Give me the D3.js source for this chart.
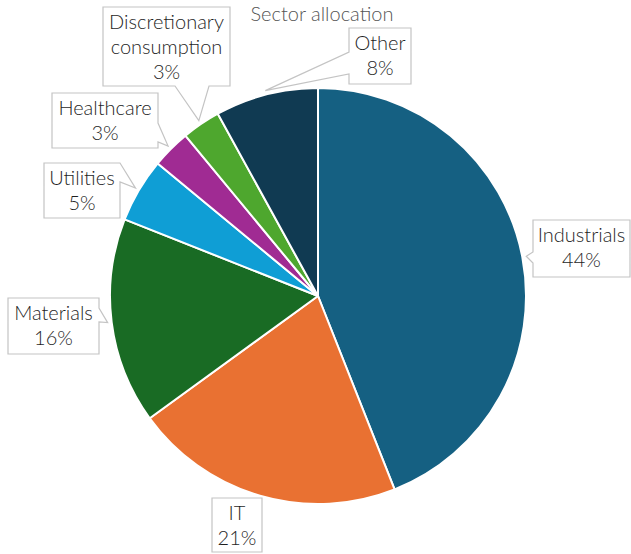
<!DOCTYPE html>
<html>
<head>
<meta charset="utf-8">
<script src="https://cdn.jsdelivr.net/npm/d3@7"></script>
<style>
  html, body { margin: 0; padding: 0; background: #ffffff; }
  svg { display: block; }
</style>
</head>
<body>
<svg id="chart" width="631" height="554"></svg>
<script>
// Sector weights, clockwise from 12 o'clock
const categories = ["Industrials", "IT", "Materials", "Utilities", "Healthcare", "Discretionary consumption", "Other"];
const shares = [44, 21, 16, 5, 3, 3, 8];
const colors = ["#156082", "#E97132", "#196B24", "#0F9ED5", "#A02B93", "#4EA72E", "#103A52"];
const title = "Sector allocation";

const W = 631, H = 554;
const cx = 318, cy = 296, R = 208;

// Callout boxes: [x, y, w, h], the side carrying the pointer and where its base sits on that side
const callouts = {
  "Industrials": { box: [533, 220, 97, 57], side: "left", base: [252, 263] },
  "IT": { box: [212, 498, 50, 54], side: null },
  "Materials": { box: [8, 298, 91, 56], side: "right", base: [308, 322] },
  "Utilities": { box: [44, 163, 76, 55], side: "right", base: [163, 182] },
  "Healthcare": { box: [52, 93, 106, 55], side: "right", base: [123, 142] },
  "Discretionary consumption": { box: [103, 7, 127, 79], side: "bottom", base: [175, 209] },
  "Other": { box: [349, 28, 62, 56], side: "left", base: [52, 74] }
};

const svg = d3.select("#chart");
const fontFamily = "Lato, 'Open Sans', sans-serif";

const pie = d3.pie().sort(null).value(d => d.value);
const data = categories.map((c, i) => ({ name: c, value: shares[i], color: colors[i] }));
const arcs = pie(data);

const arc = d3.arc().innerRadius(0).outerRadius(R);
const tipArc = d3.arc().innerRadius(R + 4).outerRadius(R + 4);

const g = svg.append("g").attr("transform", `translate(${cx},${cy})`);

g.selectAll("path.slice")
  .data(arcs)
  .join("path")
  .attr("class", "slice")
  .attr("d", arc)
  .attr("fill", d => d.data.color)
  .attr("stroke", "#ffffff")
  .attr("stroke-width", 2)
  .attr("stroke-linejoin", "round");

// Rectangle outline with a wedge pointing at the slice
function calloutPath(c, tip) {
  const [x, y, w, h] = c.box;
  const p = d3.path();
  p.moveTo(x, y);
  if (c.side === "top") { p.lineTo(c.base[0], y); p.lineTo(tip[0], tip[1]); p.lineTo(c.base[1], y); }
  p.lineTo(x + w, y);
  if (c.side === "right") { p.lineTo(x + w, c.base[0]); p.lineTo(tip[0], tip[1]); p.lineTo(x + w, c.base[1]); }
  p.lineTo(x + w, y + h);
  if (c.side === "bottom") { p.lineTo(c.base[1], y + h); p.lineTo(tip[0], tip[1]); p.lineTo(c.base[0], y + h); }
  p.lineTo(x, y + h);
  if (c.side === "left") { p.lineTo(x, c.base[1]); p.lineTo(tip[0], tip[1]); p.lineTo(x, c.base[0]); }
  p.closePath();
  return p.toString();
}

const labels = svg.append("g");

arcs.forEach(d => {
  const c = callouts[d.data.name];
  const t = tipArc.centroid(d);
  const tip = [cx + t[0], cy + t[1]];
  labels.append("path")
    .attr("d", calloutPath(c, tip))
    .attr("fill", "#ffffff")
    .attr("stroke", "#c4c4c4")
    .attr("stroke-width", 1.2)
    .attr("stroke-linejoin", "miter");

  const lines = d.data.name.split(" ").concat([d.data.value + "%"]);
  const [x, y, w, h] = c.box;
  const text = labels.append("text")
    .attr("text-anchor", "middle")
    .attr("font-family", fontFamily)
    .attr("font-weight", 300)
    .attr("font-size", 20)
    .attr("fill", "#1f1f1f");
  lines.forEach((ln, i) => {
    text.append("tspan")
      .attr("x", x + w / 2)
      .attr("y", y + 22 + i * 25)
      .text(ln);
  });
});

svg.append("text")
  .attr("x", 322)
  .attr("y", 21)
  .attr("text-anchor", "middle")
  .attr("font-family", fontFamily)
  .attr("font-weight", 300)
  .attr("font-size", 20)
  .attr("fill", "#555555")
  .text(title);
</script>
</body>
</html>
